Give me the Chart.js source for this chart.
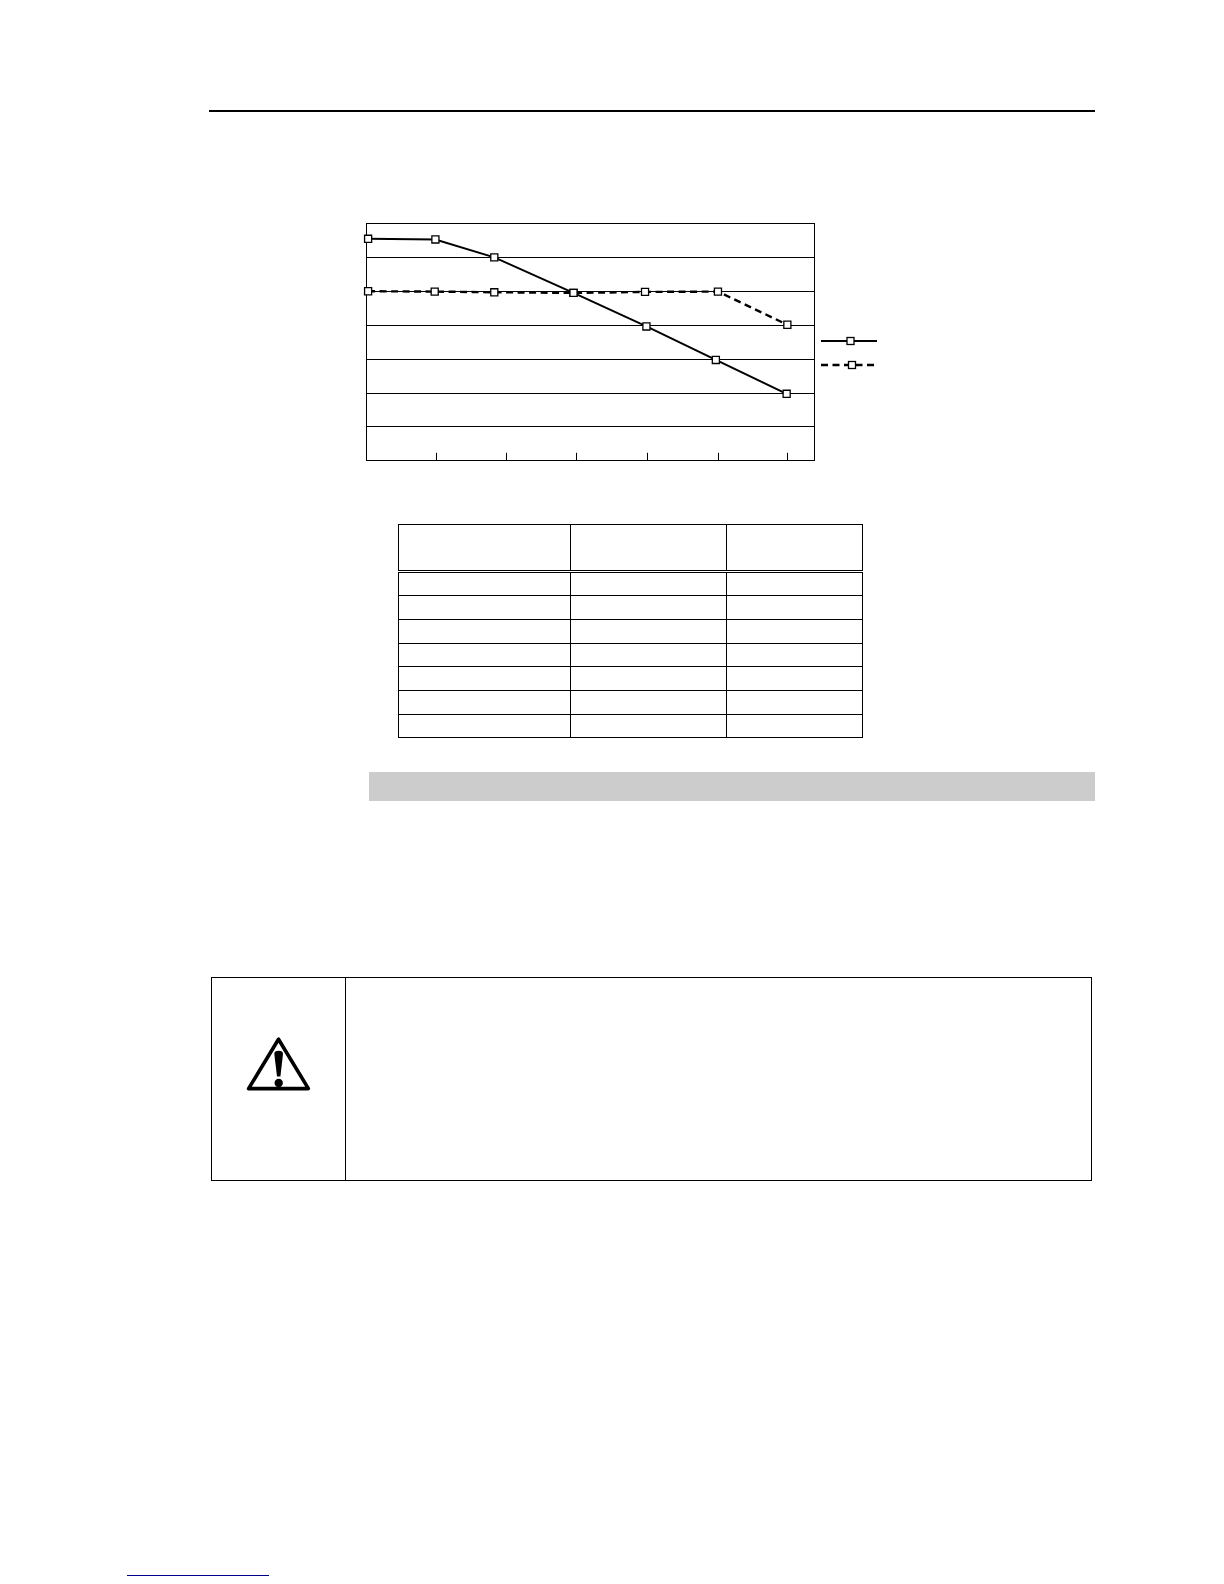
<!DOCTYPE html>
<html>
<head>
<meta charset="utf-8">
<script src="https://cdn.jsdelivr.net/npm/chart.js@4"></script>
<style>
html, body { margin: 0; padding: 0; background: #fff; }
body { position: relative; width: 1224px; height: 1584px; overflow: hidden; }
.abs { position: absolute; }
#chartWrap { left: 340px; top: 200px; width: 560px; height: 280px; }
#specTable { left: 398px; top: 524px; border-collapse: collapse; table-layout: fixed; width: 464px; }
#specTable td { border: 1px solid #000; padding: 0; height: 23px; }
#specTable tr.short td { height: 22px; }
#specTable tr.head td { height: 45px; border-bottom: 3px double #000; }
</style>
</head>
<body>
<div class="abs" style="left:209px;top:110px;width:886px;height:2px;background:#000"></div>

<div id="chartWrap" class="abs"><canvas id="chartCanvas" width="560" height="280"></canvas></div>

<table id="specTable" class="abs">
  <colgroup><col style="width:172px"><col style="width:156px"><col style="width:136px"></colgroup>
  <tbody id="specBody"></tbody>
</table>

<div class="abs" style="left:369px;top:772px;width:726px;height:29px;background:#ccc"></div>

<div class="abs" style="left:211px;top:977px;width:879px;height:202px;border:1px solid #000"></div>
<div class="abs" style="left:345px;top:977px;width:1px;height:203px;background:#000"></div>
<svg class="abs" style="left:240px;top:1030px" width="80" height="70" viewBox="0 0 80 70">
  <path d="M38.5 9.2 L8.6 58.6 L68.4 58.6 Z" fill="#fff" stroke="#000" stroke-width="3.6" stroke-linejoin="round"/>
  <path d="M34.3 24 Q34.3 20.7 38.7 20.7 Q43 20.7 43 24 L40.4 46.5 L37 46.5 Z" fill="#000"/>
  <circle cx="38.7" cy="53" r="4.2" fill="#000"/>
</svg>

<div class="abs" style="left:127px;top:1575px;width:142px;height:1px;background:#00008b"></div>

<script>
const solidX = [0.03, 0.99, 1.83, 2.96, 4.0, 4.99, 6.0];
const solidY = [65.6, 65.4, 60.1, 49.6, 39.7, 29.8, 19.8];
const dashedX = [0.03, 0.98, 1.83, 2.96, 3.98, 5.02, 6.01];
const dashedY = [50.1, 50, 49.8, 49.6, 49.9, 50, 40.2];
const xTicks = [1.005, 2.0, 3.005, 4.015, 5.03, 6.01];
const tableRows = 8;
const shortRows = [1, 4, 7];

const body = document.getElementById('specBody');
for (let r = 0; r < tableRows; r++) {
    const tr = document.createElement('tr');
    if (r === 0) tr.className = 'head';
    else if (shortRows.includes(r)) tr.className = 'short';
    for (let c = 0; c < 3; c++) tr.appendChild(document.createElement('td'));
    body.appendChild(tr);
}

// frame round the plot, the library only gives grid lines
const framePlugin = {
    id: 'frame',
    beforeDatasetsDraw(chart) {
        const a = chart.chartArea, c = chart.ctx;
        const l = Math.floor(a.left), t = Math.floor(a.top);
        c.save();
        c.strokeStyle = '#000';
        c.lineWidth = 1;
        c.strokeRect(l + 0.5, t + 0.5, Math.floor(a.right) - l, Math.floor(a.bottom) - t);
        c.restore();
    }
};

// legend: line sample with the marker on it, no labels in the reference
const legendPlugin = {
    id: 'lineLegend',
    afterDraw(chart) {
        const c = chart.ctx;
        const slots = [{ y: 141, mx: 510.5 }, { y: 165, mx: 512 }];
        chart.data.datasets.forEach((ds, i) => {
            const s = slots[i];
            c.save();
            c.strokeStyle = ds.borderColor;
            c.lineWidth = ds.borderWidth;
            c.setLineDash(ds.borderDash || []);
            c.beginPath();
            c.moveTo(481, s.y);
            c.lineTo(537, s.y);
            c.stroke();
            c.setLineDash([]);
            c.lineWidth = 1.3;
            c.fillStyle = '#fff';
            c.strokeStyle = '#000';
            c.fillRect(s.mx - 3.5, s.y - 3.5, 7, 7);
            c.strokeRect(s.mx - 3.5, s.y - 3.5, 7, 7);
            c.restore();
        });
    }
};

const pointStyle = {
    pointStyle: 'rect',
    pointRadius: 5,
    pointBackgroundColor: '#fff',
    pointBorderColor: '#000',
    pointBorderWidth: 1.3,
    clip: false,
    tension: 0,
    fill: false
};

new Chart(document.getElementById('chartCanvas').getContext('2d'), {
    type: 'line',
    data: {
        datasets: [
            Object.assign({
                label: 'A',
                data: solidX.map((x, i) => ({ x: x, y: solidY[i] })),
                borderColor: '#000',
                borderWidth: 2
            }, pointStyle),
            Object.assign({
                label: 'B',
                data: dashedX.map((x, i) => ({ x: x, y: dashedY[i] })),
                borderColor: '#000',
                borderWidth: 2.4,
                borderDash: [7, 4.5]
            }, pointStyle)
        ]
    },
    options: {
        responsive: false,
        animation: false,
        layout: { padding: { left: 26, right: 86, top: 23.9, bottom: 19.2 } },
        plugins: { legend: { display: false }, tooltip: { enabled: false } },
        scales: {
            x: {
                type: 'linear',
                min: 0,
                max: 6.39,
                afterFit: s => { s.height = 0; },
                afterBuildTicks: s => { s.ticks = xTicks.map(v => ({ value: v })); },
                border: { display: false },
                grid: { drawOnChartArea: false, drawTicks: true, tickLength: -8, color: '#000', lineWidth: 1 },
                ticks: { display: false, autoSkip: false }
            },
            y: {
                min: 0,
                max: 70,
                afterFit: s => { s.width = 0; },
                border: { display: false },
                grid: { drawTicks: false, color: '#000', lineWidth: 1 },
                ticks: { display: false, stepSize: 10 }
            }
        }
    },
    plugins: [framePlugin, legendPlugin]
});
</script>
</body>
</html>
